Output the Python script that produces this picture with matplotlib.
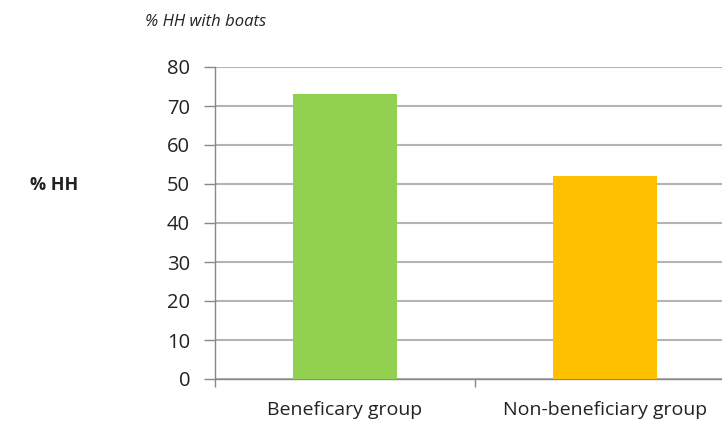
import matplotlib.pyplot as plt

groups = ['Beneficary group', 'Non-beneficiary group']
pct_hh = [73, 52]
bar_colors = ['#92d050', '#ffc000']
y_ticks = [0, 10, 20, 30, 40, 50, 60, 70, 80]

plt.rcParams['font.family'] = ['Open Sans', 'DejaVu Sans']

fig = plt.figure(figsize=(7.22, 4.26), dpi=100)
ax = fig.add_axes([215 / 722, 47 / 426, 520 / 722, 312 / 426])

x = list(range(len(groups)))
ax.bar(x, pct_hh, width=0.4, color=bar_colors, zorder=3)

ax.set_xlim(-0.5, 1.5)
ax.set_ylim(0, 80)
ax.set_yticks(y_ticks)
ax.set_yticklabels([str(v) for v in y_ticks], fontsize=14.5, color='#222222')
ax.yaxis.grid(True, color='#b4b4b4', linewidth=1.5, zorder=0)

ax.set_xticks([-0.5, 0.5, 1.5])
ax.set_xticklabels([])
ax.set_xticks(x, minor=True)
ax.set_xticklabels(groups, minor=True, fontsize=14, color='#222222')
ax.tick_params(axis='x', which='minor', length=0, pad=16)
ax.tick_params(axis='x', which='major', length=6, color='#888888', width=1)
ax.tick_params(axis='y', length=8, color='#888888', width=1, pad=10)

for side in ['top', 'right']:
    ax.spines[side].set_visible(False)
for side in ['left', 'bottom']:
    ax.spines[side].set_color('#888888')
    ax.spines[side].set_linewidth(1)

fig.text(145 / 722, 1 - 22 / 426, '% HH with boats', fontsize=12, style='italic',
         color='#222222', va='center', ha='left')
fig.text(30 / 722, 1 - 185 / 426, '% HH', fontsize=13, fontweight='bold',
         color='#222222', va='center', ha='left')

fig.savefig('out.png', dpi=100)
